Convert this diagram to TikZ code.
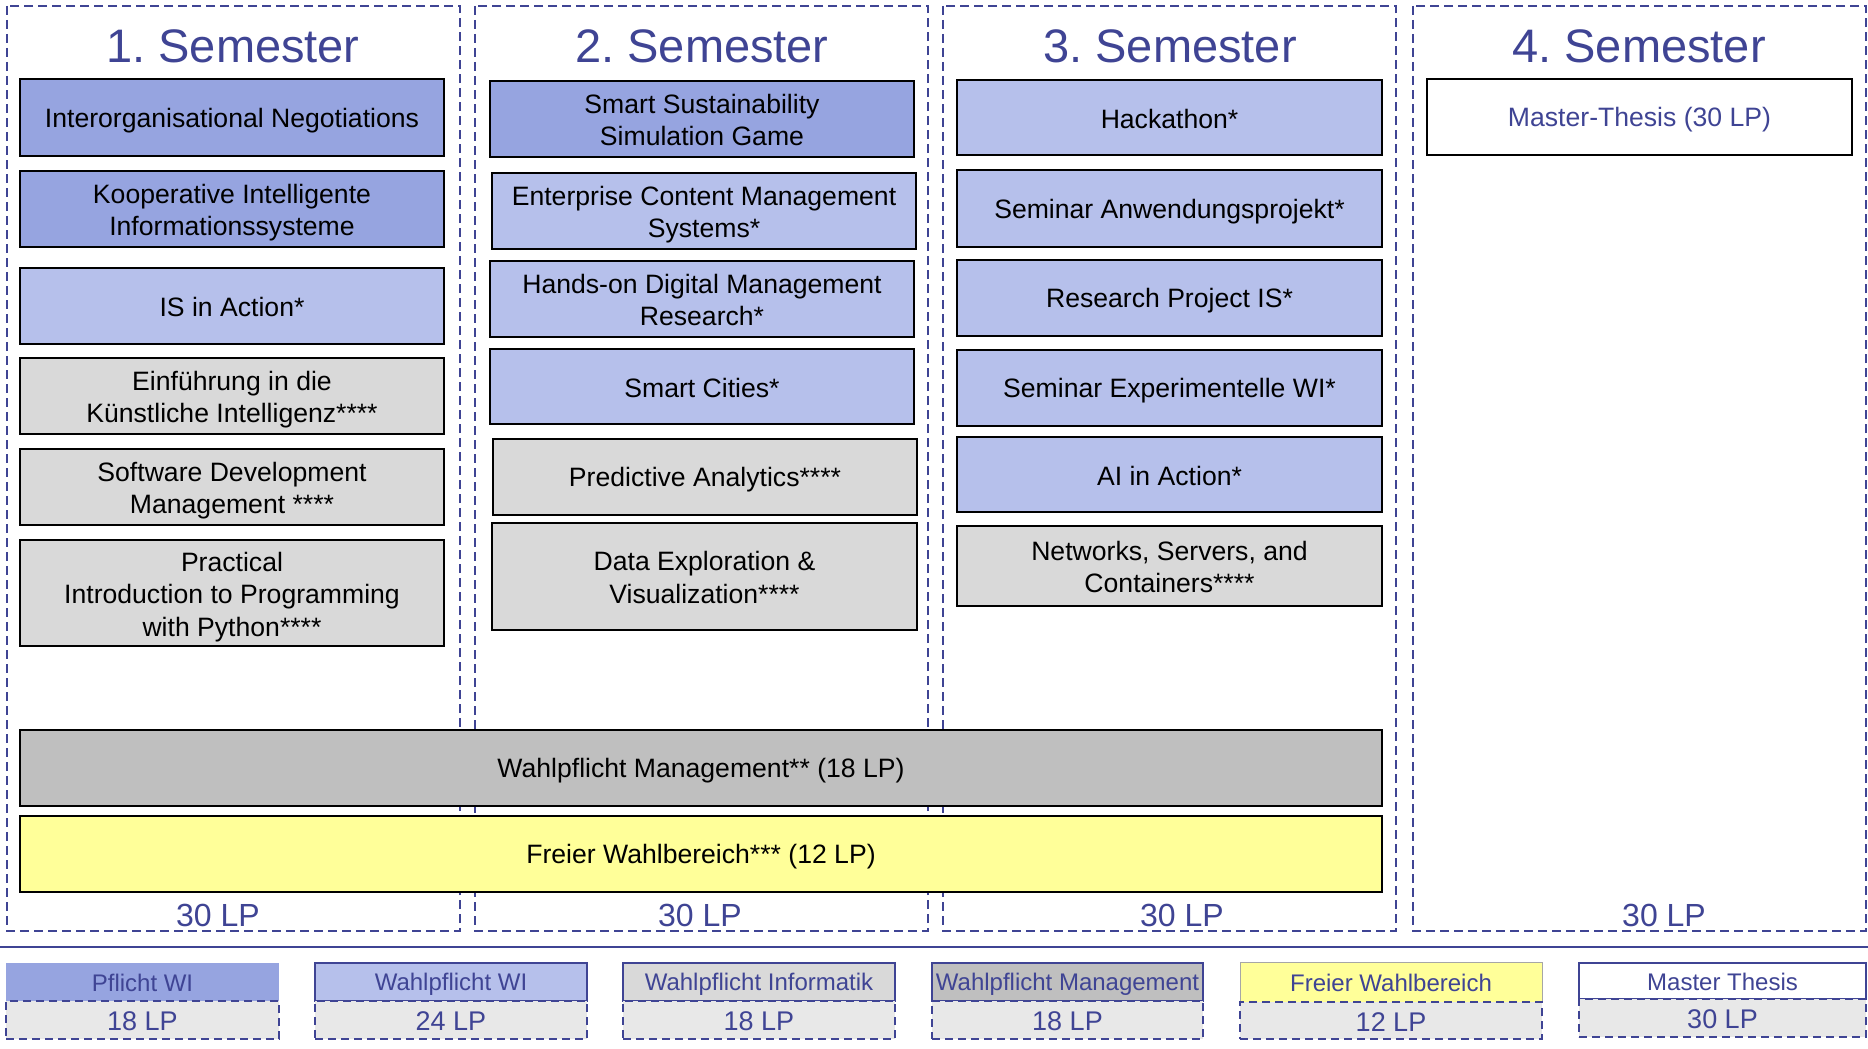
\documentclass[tikz,border=0pt]{standalone}
\usepackage{fontspec}
\setmainfont{Liberation Sans}
\frenchspacing
\definecolor{pflicht}{HTML}{96A4E0}
\definecolor{wahl}{HTML}{B6C0EB}
\definecolor{graybox}{HTML}{D9D9D9}
\definecolor{mgmt}{HTML}{BFBFBF}
\definecolor{freiyellow}{HTML}{FFFF99}
\definecolor{navy}{HTML}{3F4494}
\definecolor{lpgray}{HTML}{E8E8E8}
\newcommand\ppstrut{\rule[-0.15em]{0pt}{1.1em}}
\newcommand\ftop{\rule{0pt}{1.0em}}
\newcommand\lbot{\rule[-0.21em]{0pt}{0.21em}}
\tikzset{
  semframe/.style={draw=navy, line width=1.8pt, dash pattern=on 9pt off 5pt},
  pp/.style={execute at begin node=\ppstrut, execute at end node=\ppstrut},
  course/.style={pp, draw=black, line width=2pt, inner sep=0pt, align=center, text=black,
    font=\fontsize{26.6}{32.5}\selectfont},
  semtitle/.style={anchor=base, text=navy, inner sep=0pt, font=\fontsize{47}{50}\selectfont},
  lptext/.style={anchor=base, text=navy, inner sep=0pt, font=\fontsize{32}{36}\selectfont},
  legtop/.style={pp, inner sep=0pt, text=navy, font=\fontsize{24}{28}\selectfont},
  legbot/.style={pp, draw=navy, line width=1.8pt, dash pattern=on 8pt off 5pt, fill=lpgray,
    inner sep=0pt, text=navy, font=\fontsize{27}{30}\selectfont},
}
\begin{document}
\begin{tikzpicture}[x=1pt,y=-1pt]
\useasboundingbox (0,0) rectangle (1868,1049);
\fill[white] (0,0) rectangle (1868,1049);

% semester frames
\draw[semframe] (7,6) rectangle (460,931);
\draw[semframe] (475,6) rectangle (928,931);
\draw[semframe] (943,6) rectangle (1396,931);
\draw[semframe] (1413,6) rectangle (1866,931);

% titles
\node[semtitle] (t1) at (233,63) {1. Semester};
\node[semtitle] (t2) at (702,63) {2. Semester};
\node[semtitle] (t3) at (1170,63) {3. Semester};
\node[semtitle] (t4) at (1639,63) {4. Semester};

% semester 1
\node[course, fill=pflicht, minimum width=424pt, minimum height=77pt] (s1a) at (232,117.5) {Interorganisational Negotiations};
\node[course, fill=pflicht, minimum width=424pt, minimum height=76pt] (s1b) at (232,209) {\ftop Kooperative Intelligente\\Informationssysteme\lbot};
\node[course, fill=wahl, minimum width=424pt, minimum height=76pt] (s1c) at (232,306) {IS in Action*};
\node[course, fill=graybox, minimum width=424pt, minimum height=76pt] (s1d) at (232,396) {\ftop Einführung in die\\Künstliche Intelligenz****\lbot};
\node[course, fill=graybox, minimum width=424pt, minimum height=76pt] (s1e) at (232,487) {\ftop Software Development\\Management ****\lbot};
\node[course, fill=graybox, minimum width=424pt, minimum height=106pt] (s1f) at (232,593) {\ftop Practical\\Introduction to Programming\\with Python****\lbot};

% semester 2
\node[course, fill=pflicht, minimum width=424pt, minimum height=76pt] (s2a) at (702,119) {\ftop Smart Sustainability\\Simulation Game\lbot};
\node[course, fill=wahl, minimum width=424pt, minimum height=76pt] (s2b) at (704,211) {\ftop Enterprise Content Management\\Systems*\lbot};
\node[course, fill=wahl, minimum width=424pt, minimum height=76pt] (s2c) at (702,299) {\ftop Hands-on Digital Management\\Research*\lbot};
\node[course, fill=wahl, minimum width=424pt, minimum height=75pt] (s2d) at (702,386.5) {Smart Cities*};
\node[course, fill=graybox, minimum width=424pt, minimum height=76pt] (s2e) at (705,477) {Predictive Analytics****};
\node[course, fill=graybox, minimum width=425pt, minimum height=107pt] (s2f) at (704.5,576.5) {\ftop Data Exploration \&\\Visualization****\lbot};

% semester 3
\node[course, fill=wahl, minimum width=425pt, minimum height=75pt] (s3a) at (1169.5,117.5) {Hackathon*};
\node[course, fill=wahl, minimum width=425pt, minimum height=77pt] (s3b) at (1169.5,208.5) {Seminar Anwendungsprojekt*};
\node[course, fill=wahl, minimum width=425pt, minimum height=76pt] (s3c) at (1169.5,298) {Research Project IS*};
\node[course, fill=wahl, minimum width=425pt, minimum height=76pt] (s3d) at (1169.5,388) {Seminar Experimentelle WI*};
\node[course, fill=wahl, minimum width=425pt, minimum height=75pt] (s3e) at (1169.5,474.5) {AI in Action*};
\node[course, fill=graybox, minimum width=425pt, minimum height=80pt] (s3f) at (1169.5,566) {\ftop Networks, Servers, and\\Containers****\lbot};

% semester 4
\node[course, fill=white, text=navy, minimum width=425pt, minimum height=76pt] (s4a) at (1639.5,117) {Master-Thesis (30 LP)};

% wide bars
\node[course, fill=mgmt, minimum width=1362pt, minimum height=76pt] (wpm) at (701,768) {Wahlpflicht Management** (18 LP)};
\node[course, fill=freiyellow, minimum width=1362pt, minimum height=76pt] (fwb) at (701,854) {Freier Wahlbereich*** (12 LP)};

% LP labels
\node[lptext] (lp1) at (218,926) {30 LP};
\node[lptext] (lp2) at (700,926) {30 LP};
\node[lptext] (lp3) at (1182,926) {30 LP};
\node[lptext] (lp4) at (1664,926) {30 LP};

% legend separator
\coordinate (sepL) at (0,947);
\coordinate (sepR) at (1868,947);
\draw[navy, line width=2.2pt] (sepL) -- (sepR);

% legend
\node[legtop, fill=pflicht, minimum width=273pt, minimum height=38pt] (l1t) at (142.5,982) {Pflicht WI};
\node[legbot, minimum width=273pt, minimum height=38pt] (l1b) at (142.5,1020) {18 LP};

\node[legtop, fill=wahl, draw=navy, line width=1.8pt, minimum width=272pt, minimum height=38pt] (l2t) at (451,982) {Wahlpflicht WI};
\node[legbot, minimum width=272pt, minimum height=38pt] (l2b) at (451,1020) {24 LP};

\node[legtop, fill=graybox, draw=navy, line width=1.8pt, minimum width=272pt, minimum height=38pt] (l3t) at (759,982) {Wahlpflicht Informatik};
\node[legbot, minimum width=272pt, minimum height=38pt] (l3b) at (759,1020) {18 LP};

\node[legtop, fill=mgmt, draw=navy, line width=1.8pt, minimum width=271pt, minimum height=38pt] (l4t) at (1067.5,982) {Wahlpflicht Management};
\node[legbot, minimum width=271pt, minimum height=38pt] (l4b) at (1067.5,1020) {18 LP};

\node[legtop, fill=freiyellow, draw=gray!70, line width=1pt, minimum width=302pt, minimum height=40pt] (l5t) at (1391,982) {Freier Wahlbereich};
\node[legbot, minimum width=302pt, minimum height=37pt] (l5b) at (1391,1020.5) {12 LP};

\node[legtop, fill=white, draw=navy, line width=1.8pt, minimum width=287pt, minimum height=36pt] (l6t) at (1722.5,981) {Master Thesis};
\node[legbot, minimum width=287pt, minimum height=38pt] (l6b) at (1722.5,1018) {30 LP};
\end{tikzpicture}
\end{document}
